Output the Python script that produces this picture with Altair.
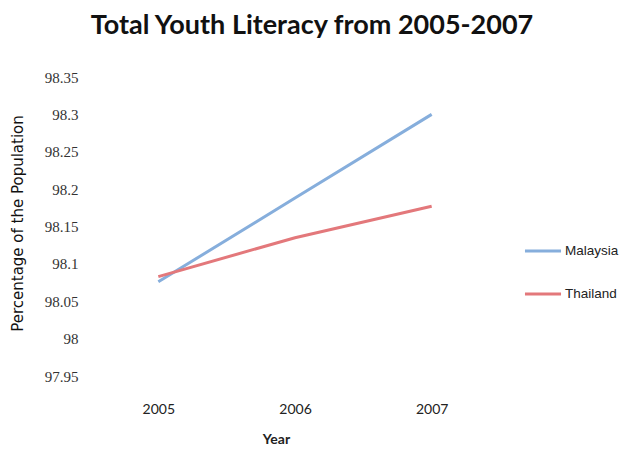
import altair as alt
import pandas as pd

years = ["2005", "2006", "2007"]
malaysia = [98.076, 98.188, 98.300]
thailand = [98.083, 98.135, 98.177]
series = ["Malaysia", "Thailand"]
colors = ["#86AEDC", "#E3787B"]

rows = []
for y, v in zip(years, malaysia):
    rows.append({"Year": y, "Value": v, "Country": "Malaysia"})
for y, v in zip(years, thailand):
    rows.append({"Year": y, "Value": v, "Country": "Thailand"})
df = pd.DataFrame(rows)

chart = alt.Chart(df).mark_line(strokeWidth=3).encode(
    x=alt.X("Year:O", scale=alt.Scale(type="point", padding=0.5),
            axis=alt.Axis(title="Year", labelAngle=0, domain=False, ticks=False,
                          labelFont="Lato", labelFontSize=14, labelColor="#222",
                          labelPadding=26, titleFont="Lato", titleFontSize=14,
                          titleFontWeight="bold", titleColor="#222", titlePadding=16,
                          titleX=186)),
    y=alt.Y("Value:Q", scale=alt.Scale(domain=[97.95, 98.35], zero=False, nice=False),
            axis=alt.Axis(title="Percentage of the Population", values=[97.95, 98.0, 98.05, 98.1, 98.15, 98.2, 98.25, 98.3, 98.35],
                          format="~g",
                          domain=False, ticks=False, grid=False,
                          labelFont="Liberation Serif", labelFontSize=15, labelColor="#333",
                          labelPadding=12, titleFont="DejaVu Sans", titleFontSize=15,
                          titleFontWeight="normal", titleColor="#111",
                          titleX=-65, titleY=146)),
    color=alt.Color("Country:N", scale=alt.Scale(domain=series, range=colors),
                    legend=alt.Legend(title=None, orient="none", legendX=433, legendY=154,
                                      symbolType="stroke", symbolSize=1300, symbolStrokeWidth=3,
                                      labelFont="Liberation Sans", labelFontSize=13.5,
                                      labelColor="#222", rowPadding=16, labelOffset=2)),
).properties(
    width=410, height=299,
    title=alt.TitleParams("Total Youth Literacy from 2005-2007", font="Lato", fontSize=27,
                          fontWeight="bold", color="#111", anchor="middle", offset=30, dx=17),
    autosize=alt.AutoSizeParams(type="none"),
    padding={"left": 90, "top": 77, "right": 124, "bottom": 73},
).configure_view(stroke=None)

chart.save("out.html", embed_options={"renderer": "svg", "actions": False})
